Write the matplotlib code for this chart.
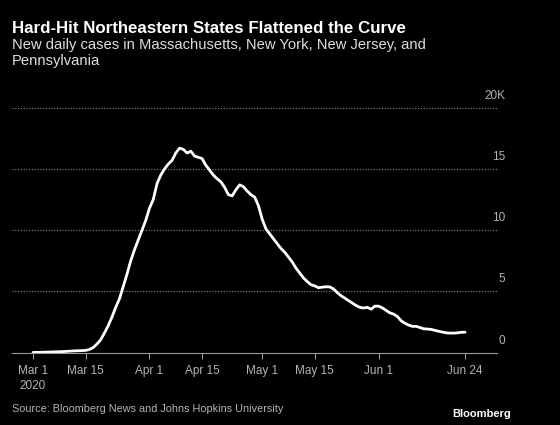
import matplotlib
matplotlib.use("Agg")
import matplotlib.pyplot as plt
import matplotlib.transforms as mtransforms
import numpy as np
import pandas as pd

plt.rcParams["font.family"] = ["Liberation Sans", "DejaVu Sans"]

# daily new cases, MA + NY + NJ + PA, Mar 1 .. Jun 24 2020
cases = [20, 25, 30, 40, 50, 60, 70, 80, 90, 110,
         130, 150, 160, 170, 190, 260, 420, 700, 1050, 1600,
         2200, 2900, 3700, 4400, 5400, 6400, 7500, 8400, 9200, 10000,
         10800, 11800, 12500, 13800, 14500, 15000, 15400, 15700, 16300, 16700,
         16600, 16300, 16450, 16050, 15950, 15850, 15300, 14900, 14500, 14200,
         13950, 13500, 12900, 12800, 13300, 13700, 13550, 13200, 12900, 12700,
         12000, 10900, 10100, 9700, 9300, 8900, 8500, 8200, 7800, 7400,
         6900, 6500, 6100, 5800, 5550, 5450, 5300, 5350, 5380, 5370,
         5200, 4900, 4650, 4450, 4250, 4050, 3850, 3700, 3650, 3700,
         3550, 3800, 3800, 3650, 3450, 3250, 3150, 2950, 2600, 2400,
         2250, 2150, 2150, 2050, 1950, 1930, 1900, 1820, 1750, 1680,
         1620, 1600, 1600, 1620, 1670, 1670]
dates = pd.date_range("2020-03-01", periods=len(cases), freq="D")

tick_dates = ["2020-03-01", "2020-03-15", "2020-04-01", "2020-04-15",
              "2020-05-01", "2020-05-15", "2020-06-01", "2020-06-24"]
tick_labels = ["Mar 1\n2020", "Mar 15", "Apr 1", "Apr 15",
               "May 1", "May 15", "Jun 1", "Jun 24"]
y_ticks = [0, 5000, 10000, 15000, 20000]
y_labels = ["0", "5", "10", "15", "20K"]

title = "Hard-Hit Northeastern States Flattened the Curve"
subtitle = "New daily cases in Massachusetts, New York, New Jersey, and\nPennsylvania"
source = "Source: Bloomberg News and Johns Hopkins University"

bg = "#000000"
txt = "#dedede"
grey = "#b4b4b4"

fig = plt.figure(figsize=(5.6, 4.25), dpi=100, facecolor=bg)
ax = fig.add_axes([12/560, 1-352.7/425, 485/560, (352.7-107.7)/425])
ax.set_facecolor(bg)

ax.plot(dates, cases, color="white", lw=2.0, solid_capstyle="round")

d0 = pd.Timestamp("2020-03-01")
ax.set_xlim(d0 - pd.Timedelta(days=5.6), d0 + pd.Timedelta(days=123.5))
ax.set_ylim(0, 20000)

for v in y_ticks[1:]:
    ax.axhline(v, color="#8a8a8a", lw=0.8, ls=(0, (1, 1.5)), zorder=0)

off = mtransforms.offset_copy(ax.get_yaxis_transform(), fig=fig, x=0, y=12, units="dots")
for v, lab in zip(y_ticks, y_labels):
    ax.text((505-12)/485, v, lab, transform=off, ha="right", va="center",
            color=grey, fontsize=8.5)

ax.set_xticks(pd.to_datetime(tick_dates))
ax.set_xticklabels(tick_labels, color=grey, fontsize=8.5, linespacing=1.35)
ax.tick_params(axis="x", length=4, color="#9a9a9a", width=0.8, pad=5)
ax.set_yticks([])
for s in ["top", "right", "left"]:
    ax.spines[s].set_visible(False)
ax.spines["bottom"].set_color("#9a9a9a")
ax.spines["bottom"].set_linewidth(0.8)

fig.text(12/560, 1-33/425, title, color="white", fontsize=12.2, fontweight="bold",
         va="baseline", ha="left")
fig.text(12/560, 1-38/425, subtitle, color=txt, fontsize=10.6, va="top", ha="left",
         linespacing=1.2)
fig.text(12/560, 1-409/425, source, color=grey, fontsize=7.8, va="center", ha="left")
fig.text(511/560, 1-414/425, "Bloomberg", color="white", fontsize=8,
         fontweight="bold", va="center", ha="right")

fig.savefig("out.png", dpi=100, facecolor=bg)
